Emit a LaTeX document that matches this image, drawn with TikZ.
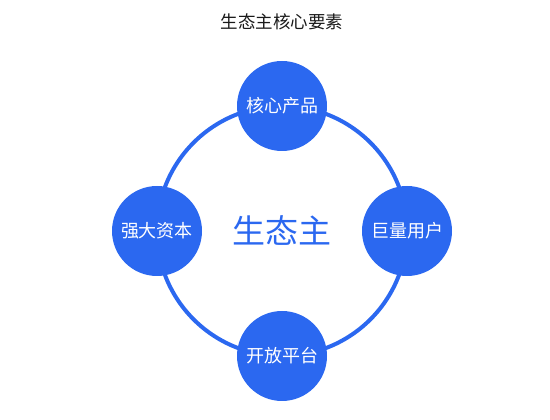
\documentclass[tikz,border=0pt]{standalone}
\usepackage{fontspec}
\setmainfont{Noto Sans CJK SC}
\usepackage{tikz}
\usetikzlibrary{shapes,positioning}
\definecolor{ecoblue}{HTML}{2B68F0}

\begin{document}
\begin{tikzpicture}[x=1pt,y=1pt,node distance=125pt]
  \tikzstyle{ring}=[circle,draw=ecoblue,line width=4pt,minimum size=250pt,
                    text=ecoblue,font=\fontsize{33pt}{38pt}\selectfont]
  \tikzstyle{petal}=[circle,fill=ecoblue,draw=none,minimum size=90pt,
                     text=white,font=\fontsize{18pt}{22pt}\selectfont]
  \tikzstyle{heading}=[text=black!90,font=\fontsize{17.5pt}{21pt}\selectfont]

  \useasboundingbox (0,0) rectangle (550,420);

  \node[heading] (title) at (282,398) {生态主核心要素};

  \node[ring]  (core) at (282,189)       {生态主};
  \node[petal] (product) [above of=core] {核心产品};
  \node[petal] (users)   [right of=core] {巨量用户};
  \node[petal] (platform)[below of=core] {开放平台};
  \node[petal] (capital) [left of=core]  {强大资本};
\end{tikzpicture}
\end{document}
